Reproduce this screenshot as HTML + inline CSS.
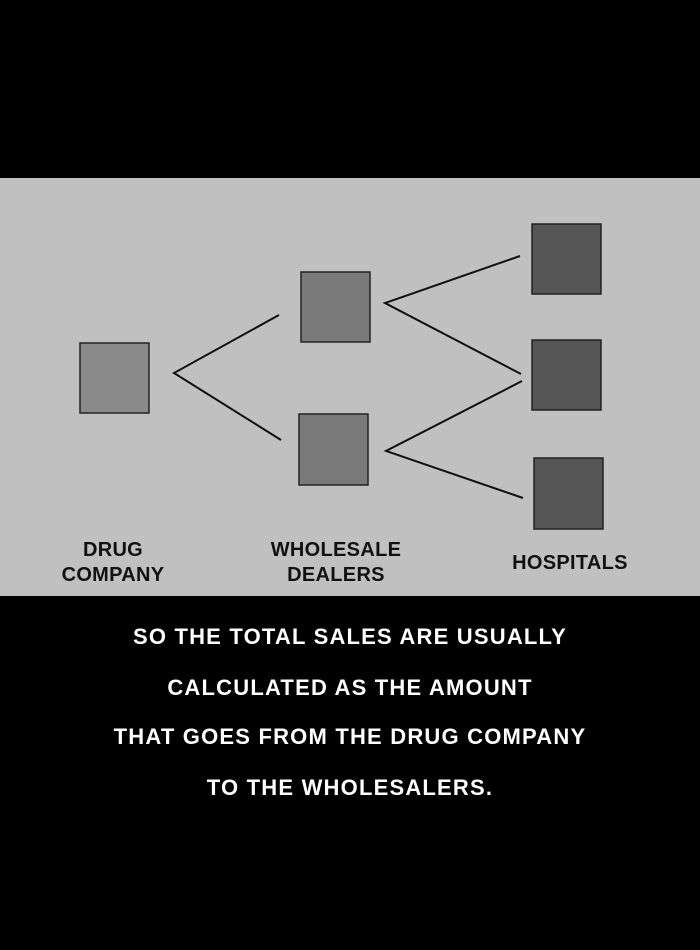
<!DOCTYPE html>
<html><head><style>
body{margin:0;background:#000;width:700px;height:950px;overflow:hidden;font-family:"Liberation Sans",sans-serif}
.t{position:absolute;left:0;width:700px;text-align:center;color:#fff;font-size:22px;font-weight:bold;letter-spacing:1.2px}
</style></head><body>
<svg width="700" height="950" style="position:absolute;left:0;top:0">
<rect x="0" y="178" width="700" height="418" fill="#c0c0c0"/>
<g stroke="#222" stroke-width="1.5">
<rect x="80" y="343" width="69" height="70" fill="#8a8a8a"/>
<rect x="301" y="272" width="69" height="70" fill="#7a7a7a"/>
<rect x="299" y="414" width="69" height="71" fill="#7a7a7a"/>
<rect x="532" y="224" width="69" height="70" fill="#555"/>
<rect x="532" y="340" width="69" height="70" fill="#555"/>
<rect x="534" y="458" width="69" height="71" fill="#555"/>
</g>
<g stroke="#111" stroke-width="2" fill="none">
<polyline points="279,315 174,373 281,440"/>
<polyline points="520,256 385,303 521,374"/>
<polyline points="522,381 386,451 523,498"/>
</g>
<g font-family="Liberation Sans, sans-serif" font-size="20" fill="#111" text-anchor="middle" font-weight="bold" letter-spacing="0.3">
<text x="113" y="556">DRUG</text>
<text x="113" y="581">COMPANY</text>
<text x="336" y="556">WHOLESALE</text>
<text x="336" y="581">DEALERS</text>
<text x="570" y="569">HOSPITALS</text>
</g>
</svg>
<div class="t" style="top:624px">SO THE TOTAL SALES ARE USUALLY</div>
<div class="t" style="top:675px">CALCULATED AS THE AMOUNT</div>
<div class="t" style="top:724px">THAT GOES FROM THE DRUG COMPANY</div>
<div class="t" style="top:775px">TO THE WHOLESALERS.</div>
</body></html>
